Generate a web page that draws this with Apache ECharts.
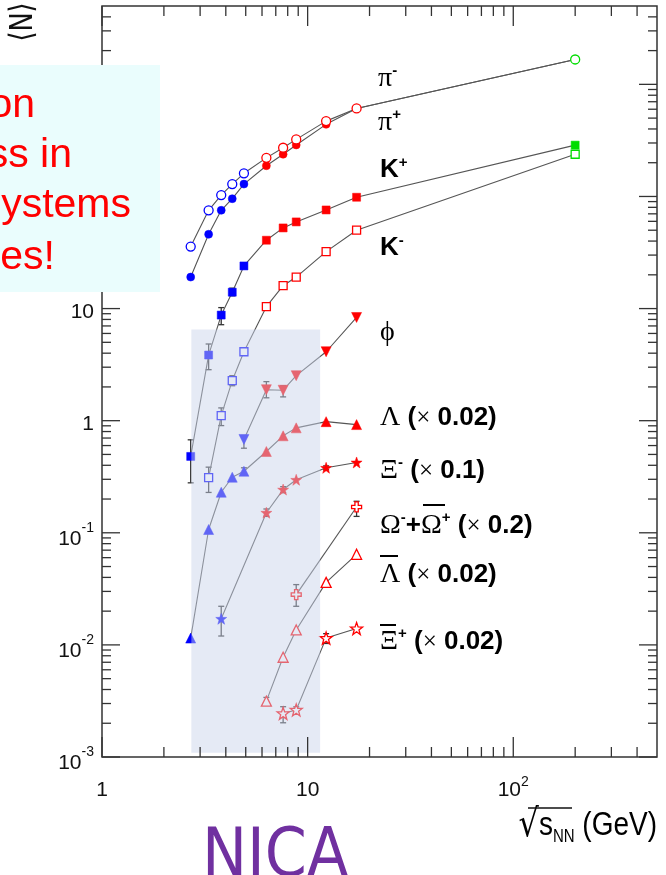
<!DOCTYPE html>
<html>
<head>
<meta charset="utf-8">
<title>Particle yields vs collision energy</title>
<script src="https://cdn.jsdelivr.net/npm/echarts/dist/echarts.min.js"></script>
<style>
html,body{margin:0;padding:0;background:#ffffff;overflow:hidden;}
#chart{width:666px;height:875px;}
</style>
</head>
<body>
<div id="chart"></div>
<script>
// ---------------- data ----------------
const piMinusX = [2.7, 3.3, 3.8, 4.3, 4.9, 6.3, 7.6, 8.8, 12.3, 17.3, 200];
const piMinusY = [35.7, 75.3, 103, 129, 161, 221, 272, 323, 470, 610, 1667];
const piPlusX  = [2.7, 3.3, 3.8, 4.3, 4.9, 6.3, 7.6, 8.8, 12.3, 17.3, 200];
const piPlusY  = [19.1, 46, 75.3, 95.5, 129, 188, 238, 288, 440, 610, 1667];
const kPlusX   = [2.7, 3.3, 3.8, 4.3, 4.9, 6.3, 7.6, 8.8, 12.3, 17.3, 200];
const kPlusY   = [0.48, 3.85, 8.75, 14.0, 24.0, 40.7, 52.4, 59.3, 75.8, 98.4, 287];
const kMinusX  = [3.3, 3.8, 4.3, 4.9, 6.3, 7.6, 8.8, 12.3, 17.3, 200];
const kMinusY  = [0.311, 1.11, 2.28, 4.12, 10.4, 16.0, 19.1, 32.2, 50.0, 238];
const phiX     = [4.9, 6.3, 7.6, 8.8, 12.3, 17.3];
const phiY     = [0.68, 1.89, 1.87, 2.52, 4.12, 8.33];
const lambdaX  = [2.7, 3.3, 3.8, 4.3, 4.9, 6.3, 7.6, 8.8, 12.3, 17.3];
const lambdaY  = [0.0115, 0.107, 0.230, 0.313, 0.354, 0.531, 0.733, 0.863, 0.98, 0.923];
const xiMinusX = [3.8, 6.3, 7.6, 8.8, 12.3, 17.3];
const xiMinusY = [0.0171, 0.151, 0.243, 0.297, 0.380, 0.424];
const omegaX   = [8.8, 17.3];
const omegaY   = [0.0281, 0.170];
const aLambdaX = [6.3, 7.6, 8.8, 12.3, 17.3];
const aLambdaY = [0.00315, 0.00776, 0.0136, 0.0361, 0.0643];
const aXiX     = [7.6, 8.8, 12.3, 17.3];
const aXiY     = [0.00245, 0.00263, 0.0115, 0.0140];

// error bars: energy, lower, upper
const errX  = [2.7, 3.3, 3.8, 4.3, 3.3, 3.8, 4.3, 4.9, 6.3, 7.6, 4.9, 3.8, 6.3, 7.6, 12.3, 8.8, 17.3, 6.3, 7.6, 8.8, 12.3];
const errLo = [0.279, 2.85, 7.18, 13.0, 0.229, 0.904, 2.05, 0.568, 1.60, 1.63, 0.33, 0.0120, 0.140, 0.228, 0.365, 0.0221, 0.140, 0.0029, 0.00202, 0.00245, 0.0103];
const errHi = [0.675, 4.83, 10.2, 15.2, 0.385, 1.30, 2.52, 0.737, 2.23, 2.05, 0.38, 0.0221, 0.163, 0.258, 0.395, 0.0345, 0.191, 0.0034, 0.00281, 0.0028, 0.0126];

// shaded NICA energy range
const shadeX = [2.72, 11.5];
const shadeY = [0.00109, 6.5];

// tick labels
const xLabelVals = [1, 10, 100];
const xLabelBase = ['1', '10', '10'];
const xLabelExp  = ['', '', '2'];
const yLabelVals = [0.001, 0.01, 0.1, 1, 10, 100, 1000];
const yLabelBase = ['10', '10', '10', '1', '10', '10', '10'];
const yLabelExp  = ['-3', '-2', '-1', '', '', '2', '3'];

// ---------------- helpers ----------------
const BLUE = '#0000ff', RED = '#ff0000', GREEN = '#00dd00';
function colorFor(x) { return x < 5.5 ? BLUE : (x < 100 ? RED : GREEN); }

const STAR = 'path://M12,0.5 L14.9,8.6 L23.5,8.8 L16.6,14 L19.1,22.5 L12,17.5 L4.9,22.5 L7.4,14 L0.5,8.8 L9.1,8.6 Z';
const CROSS = 'path://M8,0 L16,0 L16,8 L24,8 L24,16 L16,16 L16,24 L8,24 L8,16 L0,16 L0,8 L8,8 Z';

function lineSeries(name, xs, ys, symbol, open, size, rotate) {
  return {
    type: 'line', name: name, symbol: symbol, symbolSize: size, symbolRotate: rotate || 0,
    showAllSymbol: true, silent: true, z: 3, animation: false,
    emphasis: { disabled: true },
    lineStyle: { color: '#555', width: 1.1 },
    data: xs.map((x, i) => ({
      value: [x, ys[i]],
      itemStyle: open
        ? { color: '#ffffff', borderColor: colorFor(x), borderWidth: 1.3 }
        : { color: colorFor(x), borderColor: colorFor(x), borderWidth: 0.5 }
    }))
  };
}

function findIdx(vals, v) {
  const lv = Math.log10(v);
  for (let i = 0; i < vals.length; i++) {
    if (Math.abs(Math.log10(vals[i]) - lv) < 1e-6) return i;
  }
  return -1;
}

const xMajor = [1, 10, 100];
const xMinor = [];
xMajor.forEach(d => { for (let k = 2; k <= 9; k++) { if (k * d < 500) xMinor.push(k * d); } });
const yMajor = [0.001, 0.01, 0.1, 1, 10, 100, 1000];
const yMinor = [];
yMajor.forEach(d => { for (let k = 2; k <= 9; k++) { if (k * d < 5000 - 1e-9) yMinor.push(+(k * d).toPrecision(3)); } });

const TICK = '#333';

const chart = echarts.init(document.getElementById('chart'), null, { renderer: 'canvas' });

const gSerif = 'Liberation Serif';
const gSans = 'Liberation Sans';
const annRich = {
  g: { fontFamily: gSerif, fontSize: 28, color: '#000' },
  b: { fontFamily: gSans, fontWeight: 'bold', fontSize: 26, color: '#000' },
  x: { fontFamily: gSerif, fontSize: 25, color: '#000' },
  p: { fontFamily: gSans, fontWeight: 'bold', fontSize: 15, color: '#000', verticalAlign: 'top', height: 12, lineHeight: 12 }
};
function ann(text, x, y) {
  return { type: 'text', x: x, y: y, z: 50, silent: true,
    style: { text: text, rich: annRich, align: 'left', verticalAlign: 'middle', fill: '#000' } };
}
function bar(x1, x2, y) {
  return { type: 'line', z: 50, silent: true, shape: { x1: x1, y1: y, x2: x2, y2: y }, style: { stroke: '#000', lineWidth: 2 } };
}
function redText(t, xr, y) {
  return { type: 'text', x: xr, y: y, z: 101, silent: true,
    style: { text: t, fill: '#ff0000', font: '41px "Liberation Sans", Arial, sans-serif', align: 'right', verticalAlign: 'middle' } };
}

const option = {
  backgroundColor: '#ffffff',
  animation: false,
  grid: { left: 102, top: 6, width: 555, height: 751, show: true, borderColor: '#333', borderWidth: 1.5, backgroundColor: 'transparent', containLabel: false, outerBoundsMode: 'none' },
  xAxis: {
    type: 'log', logBase: 10, min: 1, max: 500,
    axisLine: { show: false }, axisTick: { show: false }, splitLine: { show: false }, minorTick: { show: false },
    axisLabel: {
      margin: 23, color: '#111',
      formatter: v => { const i = findIdx(xLabelVals, v); if (i < 0) return ''; return '{n|' + xLabelBase[i] + '}' + (xLabelExp[i] ? '{s|' + xLabelExp[i] + '}' : ''); },
      rich: {
        n: { fontFamily: gSans, fontSize: 21, color: '#111', height: 20, lineHeight: 20 },
        s: { fontFamily: gSans, fontSize: 14, color: '#111', height: 4, lineHeight: 4, verticalAlign: 'top' }
      }
    }
  },
  yAxis: {
    type: 'log', logBase: 10, min: 0.001, max: 5000,
    axisLine: { show: false }, axisTick: { show: false }, splitLine: { show: false }, minorTick: { show: false },
    axisLabel: {
      margin: 8, color: '#111',
      formatter: v => {
        const i = findIdx(yLabelVals, v); if (i < 0) return '';
        if (yLabelExp[i]) return '{n|' + yLabelBase[i] + '}{s|' + yLabelExp[i] + '}';
        return '{m|' + yLabelBase[i] + '}';
      },
      rich: {
        n: { fontFamily: gSans, fontSize: 21, color: '#111', height: 20, lineHeight: 32, verticalAlign: 'bottom' },
        s: { fontFamily: gSans, fontSize: 14, color: '#111', height: 22, lineHeight: 22, verticalAlign: 'top' },
        m: { fontFamily: gSans, fontSize: 21, color: '#111', height: 20, lineHeight: 28, verticalAlign: 'bottom' }
      }
    }
  },
  series: [
    {
      type: 'custom', name: 'errors', z: 2, silent: true, animation: false,
      encode: { x: 0, y: [1, 2] },
      data: errX.map((x, i) => [x, errLo[i], errHi[i]]),
      renderItem: (params, api) => {
        const lo = api.coord([api.value(0), api.value(1)]);
        const hi = api.coord([api.value(0), api.value(2)]);
        const st = { stroke: '#333', lineWidth: 1.3 };
        return { type: 'group', children: [
          { type: 'line', shape: { x1: lo[0], y1: lo[1], x2: hi[0], y2: hi[1] }, style: st },
          { type: 'line', shape: { x1: lo[0] - 3, y1: lo[1], x2: lo[0] + 3, y2: lo[1] }, style: st },
          { type: 'line', shape: { x1: hi[0] - 3, y1: hi[1], x2: hi[0] + 3, y2: hi[1] }, style: st }
        ] };
      }
    },
    lineSeries('π+', piPlusX, piPlusY, 'circle', false, 8),
    lineSeries('π-', piMinusX, piMinusY, 'circle', true, 9),
    lineSeries('K+', kPlusX, kPlusY, 'rect', false, 8),
    lineSeries('K-', kMinusX, kMinusY, 'rect', true, 8),
    lineSeries('φ', phiX, phiY, 'triangle', false, 10, 180),
    lineSeries('Λ', lambdaX, lambdaY, 'triangle', false, 10),
    lineSeries('Ξ-', xiMinusX, xiMinusY, STAR, false, 11),
    lineSeries('Ω', omegaX, omegaY, CROSS, true, 10),
    lineSeries('anti-Λ', aLambdaX, aLambdaY, 'triangle', true, 10),
    lineSeries('anti-Ξ+', aXiX, aXiY, STAR, true, 12),
    {
      type: 'custom', name: 'shade', z: 10, silent: true, animation: false,
      encode: { x: [0, 2], y: [1, 3] },
      data: [[shadeX[0], shadeY[1], shadeX[1], shadeY[0]]],
      renderItem: (params, api) => {
        const a = api.coord([api.value(0), api.value(1)]);
        const b = api.coord([api.value(2), api.value(3)]);
        return { type: 'rect', shape: { x: a[0], y: a[1], width: b[0] - a[0], height: b[1] - a[1] },
          style: { fill: 'rgba(200,211,234,0.48)' } };
      }
    },
    {
      type: 'custom', name: 'xticks', z: 12, silent: true, animation: false,
      encode: { x: 0, y: 1 },
      data: xMajor.map(v => [v, 1, 1]).concat(xMinor.map(v => [v, 1, 0])),
      renderItem: (params, api) => {
        const cs = params.coordSys;
        const x = api.coord([api.value(0), 1])[0];
        const len = api.value(2) ? 20 : 10;
        const b = cs.y + cs.height, t = cs.y;
        const st = { stroke: TICK, lineWidth: 1.3 };
        return { type: 'group', children: [
          { type: 'line', shape: { x1: x, y1: b, x2: x, y2: b - len }, style: st },
          { type: 'line', shape: { x1: x, y1: t, x2: x, y2: t + len }, style: st }
        ] };
      }
    },
    {
      type: 'custom', name: 'yticks', z: 12, silent: true, animation: false,
      encode: { x: 0, y: 1 },
      data: yMajor.map(v => [1, v, 1]).concat(yMinor.map(v => [1, v, 0])),
      renderItem: (params, api) => {
        const cs = params.coordSys;
        const y = api.coord([1, api.value(1)])[1];
        const len = api.value(2) ? 18 : 9;
        const l = cs.x, r = cs.x + cs.width;
        const st = { stroke: TICK, lineWidth: 1.3 };
        return { type: 'group', children: [
          { type: 'line', shape: { x1: l, y1: y, x2: l + len, y2: y }, style: st },
          { type: 'line', shape: { x1: r, y1: y, x2: r - len, y2: y }, style: st }
        ] };
      }
    }
  ],
  graphic: [
    // callout box (partly outside the picture)
    { type: 'rect', z: 100, silent: true, shape: { x: 0, y: 65, width: 160, height: 227 }, style: { fill: '#eafdfd' } },
    redText('on', 35, 106),
    redText('ss in', 72, 156),
    redText('ystems', 131, 206),
    redText('es!', 55, 258),
    // y axis title
    { type: 'text', x: 24, y: 22, rotation: Math.PI / 2, scaleX: 0.8, z: 50, silent: true,
      style: { text: '⟨N⟩', fill: '#111', font: '32px "DejaVu Sans", sans-serif', align: 'center', verticalAlign: 'middle' } },
    // curve labels
    ann('{g|π}{p|-}', 378, 79),
    ann('{g|π}{p|+}', 378, 123),
    ann('{b|K}{p|+}', 380, 170),
    ann('{b|K}{p|-}', 380, 248),
    ann('{g|ϕ}', 380, 333),
    ann('{g|Λ}{b| (}{x|×}{b| 0.02)}', 380, 418),
    ann('{g|Ξ}{p|-}{b| (}{x|×}{b| 0.1)}', 380, 471),
    ann('{g|Ω}{p|-}{b|+}{g|Ω}{p|+}{b| (}{x|×}{b| 0.2)}', 380, 526),
    ann('{g|Λ}{b| (}{x|×}{b| 0.02)}', 380, 575),
    ann('{g|Ξ}{p|+}{b| (}{x|×}{b| 0.02)}', 380, 642),
    bar(423, 445, 505),
    bar(380, 398, 556),
    bar(380, 396, 625),
    // x axis title
    { type: 'text', x: 657, y: 826, scaleY: 1.2, z: 50, silent: true,
      style: { text: '{r|√}{s|s}{n|NN}{t| (GeV)}', align: 'right', verticalAlign: 'middle',
        rich: {
          r: { fontFamily: 'DejaVu Sans', fontSize: 32, color: '#111' },
          s: { fontFamily: gSans, fontSize: 28, color: '#111' },
          n: { fontFamily: gSans, fontSize: 15, color: '#111', height: 14, verticalAlign: 'bottom' },
          t: { fontFamily: gSans, fontSize: 28, color: '#111' }
        } } },
    { type: 'line', z: 50, silent: true, shape: { x1: 528, y1: 808, x2: 572, y2: 808 }, style: { stroke: '#111', lineWidth: 1.3 } },
    // NICA
    { type: 'text', x: 202, y: 859, z: 50, silent: true,
      style: { text: 'NICA', fill: '#7030a0', font: '67px "Liberation Sans Narrow", "DejaVu Sans Condensed", sans-serif', align: 'left', verticalAlign: 'middle' } }
  ]
};
chart.setOption(option);
</script>
</body>
</html>
